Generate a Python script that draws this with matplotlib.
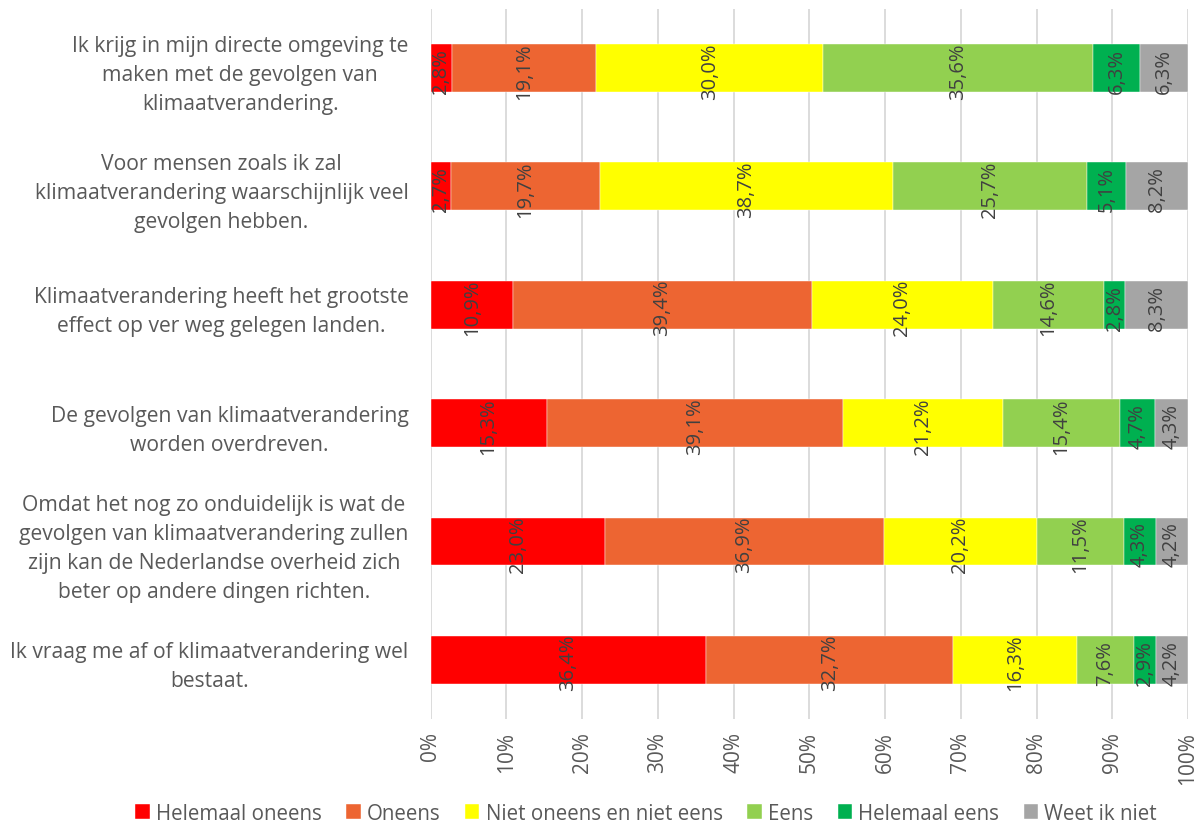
import matplotlib
matplotlib.use("Agg")
import matplotlib.pyplot as plt
import numpy as np

plt.rcParams['font.family'] = ['Open Sans', 'DejaVu Sans']

categories = [
    "Ik krijg in mijn directe omgeving te\nmaken met de gevolgen van\nklimaatverandering.",
    "Voor mensen zoals ik zal\nklimaatverandering waarschijnlijk veel\ngevolgen hebben.",
    "Klimaatverandering heeft het grootste\neffect op ver weg gelegen landen.",
    "De gevolgen van klimaatverandering\nworden overdreven.",
    "Omdat het nog zo onduidelijk is wat de\ngevolgen van klimaatverandering zullen\nzijn kan de Nederlandse overheid zich\nbeter op andere dingen richten.",
    "Ik vraag me af of klimaatverandering wel\nbestaat.",
]
series_names = ["Helemaal oneens", "Oneens", "Niet oneens en niet eens",
                "Eens", "Helemaal eens", "Weet ik niet"]
helemaal_oneens = [2.8, 2.7, 10.9, 15.3, 23.0, 36.4]
oneens = [19.1, 19.7, 39.4, 39.1, 36.9, 32.7]
neutraal = [30.0, 38.7, 24.0, 21.2, 20.2, 16.3]
eens = [35.6, 25.7, 14.6, 15.4, 11.5, 7.6]
helemaal_eens = [6.3, 5.1, 2.8, 4.7, 4.3, 2.9]
weet_niet = [6.3, 8.2, 8.3, 4.3, 4.2, 4.2]
tick_labels = [f"{v}%" for v in range(0, 101, 10)]

colors = ["#FF0000", "#ED6532", "#FFFF00", "#92D050", "#00B050", "#A5A5A5"]

data = np.array([helemaal_oneens, oneens, neutraal, eens, helemaal_eens, weet_niet])
totals = data.sum(axis=0)
norm = data / totals

fig = plt.figure(figsize=(12.03, 8.29), dpi=100)
ax = fig.add_axes([0.358, 0.1315, 0.6295, 0.8565])

y = np.arange(len(categories))
left = np.zeros(len(categories))
for i, name in enumerate(series_names):
    ax.barh(y, norm[i], left=left, height=0.405, color=colors[i], label=name,
            edgecolor='white', linewidth=0.3, zorder=3)
    for j in range(len(categories)):
        ax.text(left[j] + norm[i][j] / 2, y[j] + 0.02, f"{data[i][j]:.1f}%".replace('.', ','),
                rotation=90, ha='center', va='center', fontsize=14.5, color='#404040', zorder=4)
    left += norm[i]

ax.set_ylim(len(categories) - 0.5, -0.5)
ax.set_xlim(0, 1)
ax.set_yticks(y)
ax.set_yticklabels(categories, fontsize=15.2, color='#595959', ha='right',
                   multialignment='center', linespacing=1.5)
ax.tick_params(axis='y', length=0, pad=16)
ax.set_xticks(np.linspace(0, 1, 11))
ax.set_xticklabels(tick_labels, rotation=90, fontsize=15, color='#595959')
ax.tick_params(axis='x', length=0, pad=9)
for s in ax.spines.values():
    s.set_visible(False)
ax.grid(axis='x', color='#D9D9D9', linewidth=1.3, zorder=0)
ax.set_axisbelow(True)

leg = fig.legend(loc='lower center', bbox_to_anchor=(0.537, -0.017), ncol=6, frameon=False,
                 fontsize=14.8, handlelength=0.7, handleheight=0.7, handletextpad=0.3,
                 columnspacing=1.2, labelcolor='#595959')

fig.savefig("out.png", dpi=100)
